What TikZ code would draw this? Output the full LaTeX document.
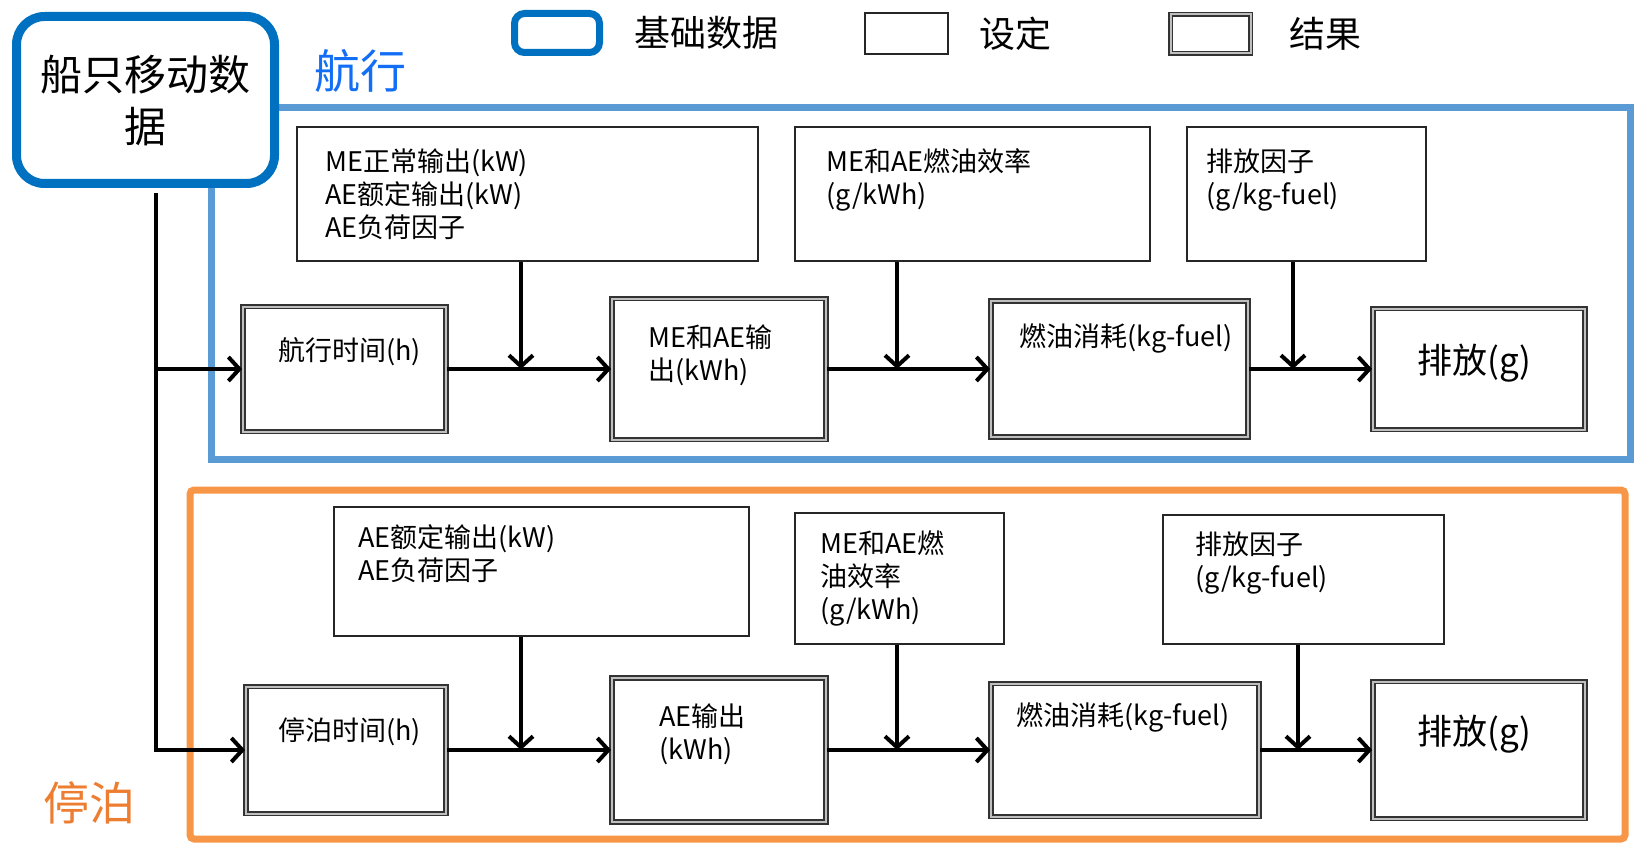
\documentclass[tikz,border=0pt]{standalone}
\usepackage{fontspec}
\setmainfont{Noto Sans CJK SC}
\usetikzlibrary{arrows.meta, positioning}
\definecolor{shipblue}{RGB}{0, 112, 192}
\definecolor{sailblue}{RGB}{91, 155, 213}
\definecolor{sailtext}{RGB}{18, 110, 245}
\definecolor{berthorange}{RGB}{247, 150, 70}
\definecolor{berthtext}{RGB}{237, 125, 49}

\begin{document}
\begin{tikzpicture}[
  x = 1pt, y = -1pt,
  node distance = 20pt and 30pt,
  every node/.style = {font=\fontsize{27}{33}\selectfont},
  shipbox/.style  = {rectangle, rounded corners=28pt, draw=shipblue, line width=9pt,
                    fill=white, align=center, font=\fontsize{42}{52}\selectfont},
  basebox/.style  = {rectangle, rounded corners=10pt, draw=shipblue, line width=7pt,
                    fill=white},
  setbox/.style   = {rectangle, draw=black!85, line width=1.8pt, fill=white},
  resbox/.style   = {rectangle, draw=black!80, line width=1.8pt, double=black!25,
                    double distance=2pt, fill=white},
  txt/.style      = {inner sep=0pt, align=left},
  bigtxt/.style   = {txt, font=\fontsize{35}{42}\selectfont},
  legtxt/.style   = {inner sep=0pt, font=\fontsize{36}{42}\selectfont},
  sailframe/.style  = {draw=sailblue, line width=7pt},
  berthframe/.style = {draw=berthorange, line width=7pt, rounded corners=4pt},
  arr/.style      = {-{Straight Barb[length=11pt, width=24pt]}, line width=4pt}
]
\useasboundingbox (0,0) rectangle (1635,845);

% frames
\draw[sailframe]  (211,108) rectangle (1630,459);
\draw[berthframe] (190,490) rectangle (1625,839);

% legend
\node[basebox, minimum width=85pt, minimum height=39pt] (leg_base) at (557,33) {};
\node[legtxt, right=31pt of leg_base] (leg_base_t) {基础数据};
\node[setbox, minimum width=83pt, minimum height=41pt] (leg_set) at (906.5,33.5) {};
\node[legtxt, right=30pt of leg_set] (leg_set_t) {设定};
\node[resbox, minimum width=80pt, minimum height=39pt] (leg_res) at (1210.5,34) {};
\node[legtxt, right=38pt of leg_res] (leg_res_t) {结果};

% ship data
\node[shipbox, minimum width=258pt, minimum height=167pt] (ship) at (145.5,100)
  {船只移动数\\据};
\node[font=\fontsize{46}{50}\selectfont, text=sailtext]   (sail_lbl)  at (360,71)  {航行};
\node[font=\fontsize{46}{50}\selectfont, text=berthtext]  (berth_lbl) at (89,803)  {停泊};

% sailing: settings
\node[setbox, minimum width=461pt, minimum height=134pt] (sail_set1) at (527.5,194) {};
\node[setbox, minimum width=355pt, minimum height=134pt] (sail_set2) at (972.5,194) {};
\node[setbox, minimum width=239pt, minimum height=134pt] (sail_set3) at (1306.5,194) {};
\node[txt, below right=22pt and 29pt of sail_set1.north west] (sail_set1_t)
  {ME正常输出(kW)\\AE额定输出(kW)\\AE负荷因子};
\node[txt, below right=22pt and 32pt of sail_set2.north west] (sail_set2_t)
  {ME和AE燃油效率\\(g/kWh)};
\node[txt, below right=22pt and 20pt of sail_set3.north west] (sail_set3_t)
  {排放因子\\(g/kg-fuel)};

% sailing: results
\node[resbox, minimum width=203pt, minimum height=125pt] (sail_time) at (344.5,369) {};
\node[resbox, minimum width=214pt, minimum height=141pt] (sail_out)  at (719,369)   {};
\node[resbox, minimum width=257pt, minimum height=136pt] (sail_fuel) at (1119.5,369) {};
\node[resbox, minimum width=212pt, minimum height=121pt] (sail_emis) at (1479,369)  {};
\node[txt, below right=32pt and 36pt of sail_time.north west] (sail_time_t) {航行时间(h)};
\node[txt, below right=27pt and 37pt of sail_out.north west]  (sail_out_t)  {ME和AE输\\出(kWh)};
\node[txt, below right=23pt and 29pt of sail_fuel.north west] (sail_fuel_t) {燃油消耗(kg-fuel)};
\node[bigtxt, below right=36pt and 45pt of sail_emis.north west] (sail_emis_t) {排放(g)};

% berthing: settings
\node[setbox, minimum width=415pt, minimum height=129pt] (berth_set1) at (541.5,571.5) {};
\node[setbox, minimum width=209pt, minimum height=131pt] (berth_set2) at (899.5,578.5) {};
\node[setbox, minimum width=281pt, minimum height=129pt] (berth_set3) at (1303.5,579.5) {};
\node[txt, below right=18pt and 25pt of berth_set1.north west] (berth_set1_t)
  {AE额定输出(kW)\\AE负荷因子};
\node[txt, below right=18pt and 26pt of berth_set2.north west] (berth_set2_t)
  {ME和AE燃\\油效率\\(g/kWh)};
\node[txt, below right=17pt and 33pt of berth_set3.north west] (berth_set3_t)
  {排放因子\\(g/kg-fuel)};

% berthing: results
\node[resbox, minimum width=200pt, minimum height=127pt] (berth_time) at (346,750)  {};
\node[resbox, minimum width=214pt, minimum height=144pt] (berth_out)  at (719,750)  {};
\node[resbox, minimum width=268pt, minimum height=133pt] (berth_fuel) at (1125,750) {};
\node[resbox, minimum width=212pt, minimum height=137pt] (berth_emis) at (1479,750) {};
\node[txt, below right=32pt and 33pt of berth_time.north west] (berth_time_t) {停泊时间(h)};
\node[txt, below right=26pt and 48pt of berth_out.north west]  (berth_out_t)  {AE输出\\(kWh)};
\node[txt, below right=20pt and 26pt of berth_fuel.north west] (berth_fuel_t) {燃油消耗(kg-fuel)};
\node[bigtxt, below right=34pt and 45pt of berth_emis.north west] (berth_emis_t) {排放(g)};

% connectors
\coordinate (sj1) at (521,369);
\coordinate (sj2) at (897,369);
\coordinate (sj3) at (1293,369);
\coordinate (bj1) at (521,750);
\coordinate (bj2) at (897,750);
\coordinate (bj3) at (1298,750);

\draw[arr] ([xshift=10pt,yshift=-5pt]ship.south) |- (sail_time.west);
\draw[arr] ([xshift=10pt,yshift=-5pt]ship.south) |- (berth_time.west);

\draw[arr] (sail_time) -- (sail_out);
\draw[arr] (sail_out)  -- (sail_fuel);
\draw[arr] (sail_fuel) -- (sail_emis);
\draw[arr] (sj1 |- sail_set1.south) -- (sj1);
\draw[arr] (sj2 |- sail_set2.south) -- (sj2);
\draw[arr] (sj3 |- sail_set3.south) -- (sj3);

\draw[arr] (berth_time) -- (berth_out);
\draw[arr] (berth_out)  -- (berth_fuel);
\draw[arr] (berth_fuel) -- (berth_emis);
\draw[arr] (bj1 |- berth_set1.south) -- (bj1);
\draw[arr] (bj2 |- berth_set2.south) -- (bj2);
\draw[arr] (bj3 |- berth_set3.south) -- (bj3);
\end{tikzpicture}
\end{document}
